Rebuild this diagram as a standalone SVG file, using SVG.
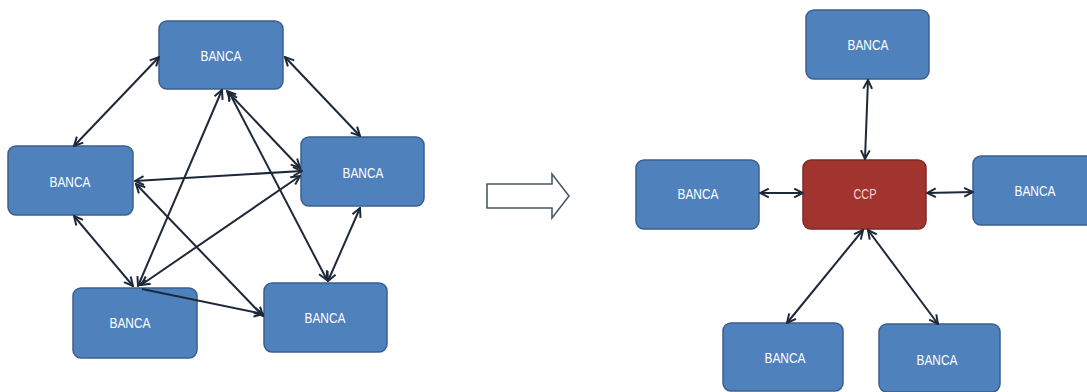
<svg xmlns="http://www.w3.org/2000/svg" width="1087" height="392" viewBox="0 0 1087 392">
<style>
.bank{fill:#4f81bd;stroke:#3a5f8f;stroke-width:1.5}
.ccp{fill:#a1342f;stroke:#7f2926;stroke-width:1.5}
.lbl{font-family:"Liberation Sans Narrow","Liberation Sans",sans-serif;font-size:15px;fill:#ffffff;text-anchor:middle;dominant-baseline:central}
.ccplbl{font-family:"Liberation Sans Narrow","Liberation Sans",sans-serif;font-size:15px;fill:#f3d6d2;text-anchor:middle;dominant-baseline:central}
.conn{stroke:#1d2838;stroke-width:2;fill:none;marker-end:url(#ah)}
.both{marker-start:url(#ah)}
</style>
<defs>
<marker id="ah" viewBox="0 0 10 10" refX="9" refY="5" markerWidth="11" markerHeight="11" markerUnits="userSpaceOnUse" orient="auto-start-reverse">
<path d="M1,1 L9,5 L1,9" fill="none" stroke="#1d2838" stroke-width="1.8"/>
</marker>
</defs>
<rect width="1087" height="392" fill="#ffffff"/>

<g id="transition-arrow">
<path d="M487,184 L552,184 L552,174 L569,196 L552,218 L552,208 L487,208 Z" fill="#ffffff" stroke="#4a5868" stroke-width="1.6" stroke-linejoin="miter"/>
</g>

<g id="bank-top-left"><rect class="bank" x="159" y="21" width="124" height="68" rx="8"/><text class="lbl" x="221" y="55" textLength="41" lengthAdjust="spacingAndGlyphs">BANCA</text></g>
<g id="bank-left"><rect class="bank" x="8" y="146" width="125" height="69" rx="8"/><text class="lbl" x="70" y="181" textLength="41" lengthAdjust="spacingAndGlyphs">BANCA</text></g>
<g id="bank-right"><rect class="bank" x="301" y="137" width="123" height="69" rx="8"/><text class="lbl" x="363" y="172" textLength="41" lengthAdjust="spacingAndGlyphs">BANCA</text></g>
<g id="bank-bottom-left"><rect class="bank" x="73" y="288" width="124" height="70" rx="8"/><text class="lbl" x="130" y="322" textLength="41" lengthAdjust="spacingAndGlyphs">BANCA</text></g>
<g id="bank-bottom-right"><rect class="bank" x="264" y="283" width="123" height="69" rx="8"/><text class="lbl" x="325" y="317" textLength="41" lengthAdjust="spacingAndGlyphs">BANCA</text></g>

<g id="bank2-top"><rect class="bank" x="806" y="10" width="123" height="69" rx="8"/><text class="lbl" x="868" y="44" textLength="41" lengthAdjust="spacingAndGlyphs">BANCA</text></g>
<g id="bank2-left"><rect class="bank" x="636" y="160" width="123" height="69" rx="8"/><text class="lbl" x="698" y="193" textLength="41" lengthAdjust="spacingAndGlyphs">BANCA</text></g>
<g id="ccp"><rect class="ccp" x="803" y="160" width="123" height="69" rx="8"/><text class="ccplbl" x="865" y="193" textLength="23" lengthAdjust="spacingAndGlyphs">CCP</text></g>
<g id="bank2-right"><rect class="bank" x="973" y="156" width="125" height="69" rx="8"/><text class="lbl" x="1035" y="190" textLength="41" lengthAdjust="spacingAndGlyphs">BANCA</text></g>
<g id="bank2-bottom-left"><rect class="bank" x="723" y="323" width="120" height="68" rx="8"/><text class="lbl" x="785" y="357" textLength="41" lengthAdjust="spacingAndGlyphs">BANCA</text></g>
<g id="bank2-bottom-right"><rect class="bank" x="879" y="324" width="121" height="68" rx="8"/><text class="lbl" x="937" y="359" textLength="41" lengthAdjust="spacingAndGlyphs">BANCA</text></g>

<g id="connectors">
<line class="conn both" x1="159" y1="57" x2="74" y2="146"/>
<line class="conn both" x1="285" y1="57" x2="360" y2="136"/>
<line class="conn both" x1="135" y1="181" x2="302" y2="171"/>
<line class="conn both" x1="74" y1="216" x2="133" y2="286"/>
<line class="conn both" x1="360" y1="208" x2="328" y2="281"/>
<line class="conn both" x1="222" y1="90" x2="138" y2="286"/>
<line class="conn both" x1="227" y1="91" x2="300" y2="168"/>
<line class="conn both" x1="229" y1="92" x2="327" y2="280"/>
<line class="conn both" x1="300" y1="176" x2="141" y2="285"/>
<line class="conn both" x1="136" y1="184" x2="263" y2="316"/>
<line class="conn" x1="142" y1="289" x2="263" y2="314"/>

<line class="conn both" x1="868" y1="80" x2="865" y2="159"/>
<line class="conn both" x1="760" y1="193" x2="803" y2="193"/>
<line class="conn both" x1="927" y1="193" x2="973" y2="192"/>
<line class="conn both" x1="863" y1="230" x2="787" y2="323"/>
<line class="conn both" x1="868" y1="230" x2="938" y2="324"/>
</g>
</svg>
